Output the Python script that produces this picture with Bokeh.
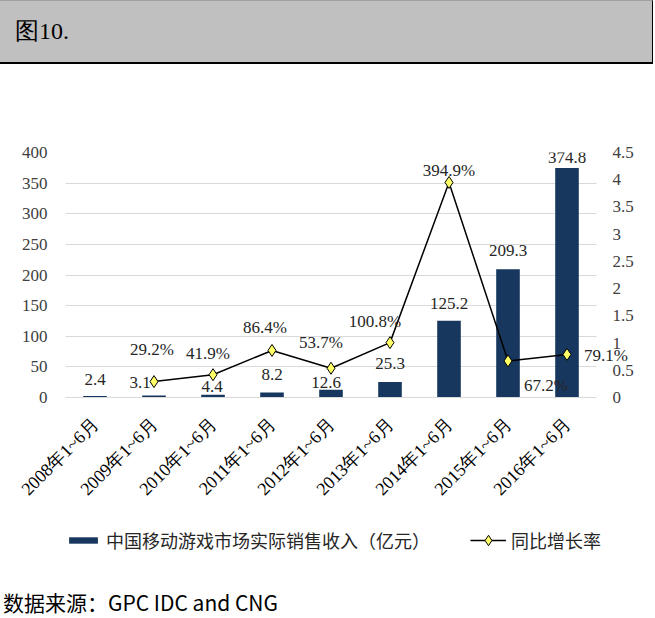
import math
from bokeh.plotting import figure
from bokeh.models import (ColumnDataSource, Range1d, LinearAxis, LabelSet, Div,
                          Legend, LegendItem, FixedTicker, Grid)
from bokeh.layouts import column
from bokeh.embed import file_html
from bokeh.resources import INLINE
from bokeh.core.properties import value

# ---------------- data ----------------
periods = ["2008年1~6月", "2009年1~6月", "2010年1~6月", "2011年1~6月", "2012年1~6月",
           "2013年1~6月", "2014年1~6月", "2015年1~6月", "2016年1~6月"]
revenue = [2.4, 3.1, 4.4, 8.2, 12.6, 25.3, 125.2, 209.3, 374.8]
growth_pct = [29.2, 41.9, 86.4, 53.7, 100.8, 394.9, 67.2, 79.1]   # 2009..2016
left_ticks = [0, 50, 100, 150, 200, 250, 300, 350, 400]
right_ticks = [0, 0.5, 1, 1.5, 2, 2.5, 3, 3.5, 4, 4.5]
title_text = "图10."
bar_name = "中国移动游戏市场实际销售收入（亿元）"
line_name = "同比增长率"
source_text = "数据来源：GPC IDC and CNG"

# label nudges in pixels (styling only)
bar_dx = [0, -14, -1, 0, -5, 0, 0, 0, 0]
bar_dy = [17, 13, 8, 18, 7, 19, 17, 19, 10]
pct_dx = [-2, -5, -7, -10, -15, 0, 38, 39]
pct_dy = [32, 21, 23, 26, 21, 12, -25, -1]

SERIF = "Liberation Serif"
SANS = "Noto Sans CJK SC"
BAR_COLOR = "#17375E"
DIAMOND = "#FFFF66"
TXT = "#404040"

W = 653
n = len(periods)
idx = list(range(n))
gidx = idx[1:]
x_end = n - 0.5 + 44 / (531 / n)   # 44px of extra room right of the last category

# ---------------- header ----------------
header = Div(text=title_text, width=W, height=64, margin=0,
             styles={"background-color": "#C0C0C0", "border-bottom": "2px solid #000",
                     "border-right": "1px solid #000", "border-top": "1px solid #A0A0A0",
                     "box-sizing": "border-box",
                     "padding-left": "15px", "line-height": "60px",
                     "font-family": "'Liberation Serif', serif", "font-size": "24px",
                     "color": "#000"})

# ---------------- main chart ----------------
p = figure(width=W, height=451, x_range=Range1d(-0.5, x_end), y_range=Range1d(0, 400),
           output_backend="svg", toolbar_location=None, title=None,
           min_border_left=65, min_border_right=13, min_border_top=88, min_border_bottom=118)
p.extra_y_ranges = {"g": Range1d(0, 4.5)}
p.outline_line_color = None
p.background_fill_color = "white"
p.border_fill_color = "white"

src = ColumnDataSource(dict(x=idx, top=revenue,
                            lbl=[f"{v:.1f}" for v in revenue],
                            dx=bar_dx, dy=bar_dy))
p.vbar(x="x", top="top", width=0.4, source=src, fill_color=BAR_COLOR, line_color=None)

gsrc = ColumnDataSource(dict(x=gidx, y=[g / 100 for g in growth_pct],
                             lbl=[f"{g:.1f}%" for g in growth_pct],
                             dx=pct_dx, dy=pct_dy))
p.line(x="x", y="y", source=gsrc, y_range_name="g", line_color="black", line_width=1.5)
p.scatter(x="x", y="y", source=gsrc, y_range_name="g", marker="diamond", size=12,
          fill_color=DIAMOND, line_color="black", line_width=1)

p.add_layout(LabelSet(x="x", y="top", text="lbl", source=src, x_offset="dx", y_offset="dy",
                      text_align="center", text_baseline="middle",
                      text_font=value(SERIF), text_font_size="17px", text_color="#262626"))
p.add_layout(LabelSet(x="x", y="y", text="lbl", source=gsrc, y_range_name="g",
                      x_offset="dx", y_offset="dy",
                      text_align="center", text_baseline="middle",
                      text_font=value(SERIF), text_font_size="17px", text_color="#262626"))

# grid
p.xgrid.visible = False
p.ygrid.grid_line_color = "#D9D9D9"
p.ygrid.ticker = FixedTicker(ticks=left_ticks)
if "cross_bounds" in Grid.properties():
    p.ygrid.cross_bounds = (-0.5, n - 0.5)

# left axis
ya = p.yaxis[0]
ya.ticker = FixedTicker(ticks=left_ticks)
ya.axis_line_color = None
ya.major_tick_line_color = None
ya.minor_tick_line_color = None
ya.major_tick_out = 0
ya.major_tick_in = 0
ya.major_label_standoff = 18
ya.major_label_text_font = SERIF
ya.major_label_text_font_size = "17px"
ya.major_label_text_color = TXT

# right axis
ra = LinearAxis(y_range_name="g", ticker=FixedTicker(ticks=right_ticks))
ra.major_label_overrides = {t: f"{t:g}" for t in right_ticks}
ra.axis_line_color = None
ra.major_tick_line_color = None
ra.minor_tick_line_color = None
ra.major_tick_out = 0
ra.major_tick_in = 0
ra.major_label_standoff = -28
ra.major_label_text_font = SERIF
ra.major_label_text_font_size = "17px"
ra.major_label_text_color = TXT
p.add_layout(ra, "right")

# bottom axis
xa = p.xaxis[0]
xa.ticker = FixedTicker(ticks=idx)
xa.major_label_overrides = {i: lab for i, lab in zip(idx, periods)}
xa.bounds = (-0.5, n - 0.5)
xa.axis_line_color = "#D9D9D9"
xa.major_tick_line_color = None
xa.minor_tick_line_color = None
xa.major_tick_out = 0
xa.major_tick_in = 0
xa.major_label_orientation = math.pi / 4
xa.major_label_standoff = 24
xa.major_label_text_font = SERIF
xa.major_label_text_font_size = "18px"
xa.major_label_text_color = "black"

# ---------------- legend strip ----------------
lg = figure(width=W, height=50, x_range=Range1d(0, 1), y_range=Range1d(0, 1),
            output_backend="svg", toolbar_location=None, title=None,
            x_axis_location=None, y_axis_location=None,
            min_border_left=65, min_border_right=13, min_border_top=0, min_border_bottom=0)
lg.grid.visible = False
lg.outline_line_color = None
lg.background_fill_color = "white"
lg.border_fill_color = "white"
nan = float("nan")
proxy = dict(x=[nan], top=[nan], y=[nan])   # legend-only proxies, nothing drawn in frame
lb = lg.vbar(x="x", top="top", width=0.4, source=ColumnDataSource(proxy),
             fill_color=BAR_COLOR, line_color=None)
ll = lg.line(x="x", y="y", source=ColumnDataSource(proxy), line_color="black", line_width=1.5)
lm = lg.scatter(x="x", y="y", source=ColumnDataSource(proxy), marker="diamond", size=12,
                fill_color=DIAMOND, line_color="black", line_width=1)

common = dict(orientation="horizontal", glyph_width=36, label_standoff=5,
              padding=0, margin=0, border_line_color=None, background_fill_alpha=0,
              label_text_font=SANS, label_text_font_size="18px", label_text_color="#262626")
legend1 = Legend(items=[LegendItem(label=bar_name, renderers=[lb])],
                 location=(0, 12), glyph_height=8, **common)
legend2 = Legend(items=[LegendItem(label=line_name, renderers=[ll, lm])],
                 location=(405, 12), glyph_height=26, **common)
lg.add_layout(legend1, "center")
lg.add_layout(legend2, "center")

footer = Div(text=source_text, width=W, height=51, margin=0,
             styles={"padding-left": "3px", "padding-top": "24px", "line-height": "27px",
                     "box-sizing": "border-box",
                     "font-family": "'Noto Sans CJK SC', sans-serif", "font-size": "21px",
                     "color": "#000"})

lay = column(header, p, lg, footer, spacing=0)
open("out.html", "w").write(file_html(lay, INLINE))
